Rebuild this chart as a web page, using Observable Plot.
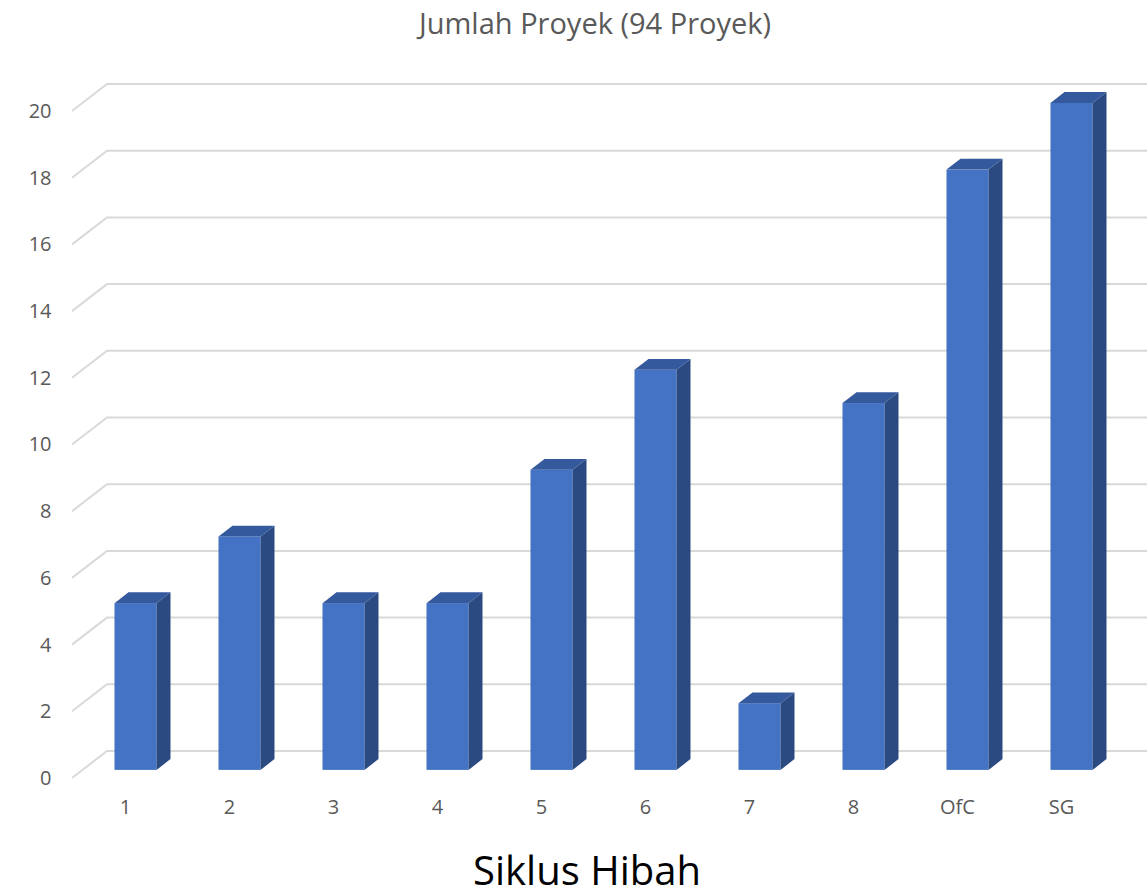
<!DOCTYPE html>
<html><head><meta charset="utf-8">
<script src="https://cdn.jsdelivr.net/npm/d3@7"></script>
<script src="https://cdn.jsdelivr.net/npm/@observablehq/plot@0.6"></script>
<style>
body{margin:0;background:#fff;font-family:"Open Sans",sans-serif;}
#title{height:48px;line-height:46px;text-align:center;font-size:29px;color:#595959;padding-left:43px;box-sizing:border-box;width:1147px;}
#caption{text-align:center;font-size:40px;color:#000;padding-left:27px;width:1147px;box-sizing:border-box;line-height:60px;margin-top:0;}
</style></head>
<body>
<div id="title">Jumlah Proyek (94 Proyek)</div>
<div id="chart"></div>
<div id="caption">Siklus Hibah</div>
<script>
const categories = ["1","2","3","4","5","6","7","8","OfC","SG"];
const values = [5,7,5,5,9,12,2,11,18,20];
const yTicks = [0,2,4,6,8,10,12,14,16,18,20];

const data = categories.map((c,i)=>({cat:c, value:values[i]}));

const DX = 35, DY = -27;           // full depth of the 3D floor
const OFF = 0.3, DEP = 0.4;        // bar starts at 30% depth, 40% deep

function grid3d(index, scales, vals, dims) {
  const g = d3.create("svg:g");
  for (const t of yTicks) {
    const y = scales.y(t);
    const x0 = dims.marginLeft - 1;
    g.append("path")
      .attr("d", `M${x0},${y}L${x0+DX},${y+DY}L${dims.width},${y+DY}`)
      .attr("fill","none").attr("stroke","#d9d9d9").attr("stroke-width",2);
  }
  return g.node();
}

function bars3d(index, scales, vals, dims) {
  const g = d3.create("svg:g");
  let bw = scales.x.bandwidth;
  bw = typeof bw === "function" ? bw() : bw;
  const ox = OFF*DX, oy = OFF*DY, ddx = DEP*DX, ddy = DEP*DY;
  for (const d of data) {
    const x0 = scales.x(d.cat) + ox, x1 = x0 + bw;
    const yb = scales.y(0) + oy, yt = scales.y(d.value) + oy;
    g.append("path")
      .attr("d", `M${x1},${yt}L${x1+ddx},${yt+ddy}L${x1+ddx},${yb+ddy}L${x1},${yb}Z`)
      .attr("fill","#2c4a82");
    g.append("path")
      .attr("d", `M${x0},${yt}L${x0+ddx},${yt+ddy}L${x1+ddx},${yt+ddy}L${x1},${yt}Z`)
      .attr("fill","#34599c");
  }
  return g.node();
}

const chart = Plot.plot({
  width: 1147, height: 792,
  marginLeft: 73, marginRight: 34, marginTop: 63, marginBottom: 62,
  style: {color:"#595959", fontSize:"20px", fontFamily:"'Open Sans', sans-serif", background:"#fff"},
  x: {domain: categories, paddingInner: 0.6, paddingOuter: 0.3},
  y: {domain: [0,20]},
  marks: [
    grid3d,
    Plot.barY(data, {x:"cat", y:"value", fill:"#4472c4", dx: OFF*DX, dy: OFF*DY}),
    bars3d,
    Plot.axisY({ticks: yTicks, tickSize: 0, tickPadding: 22, label: null}),
    Plot.axisX({tickSize: 0, tickPadding: 21, label: null})
  ]
});
document.getElementById("chart").append(chart);
</script>
</body></html>
